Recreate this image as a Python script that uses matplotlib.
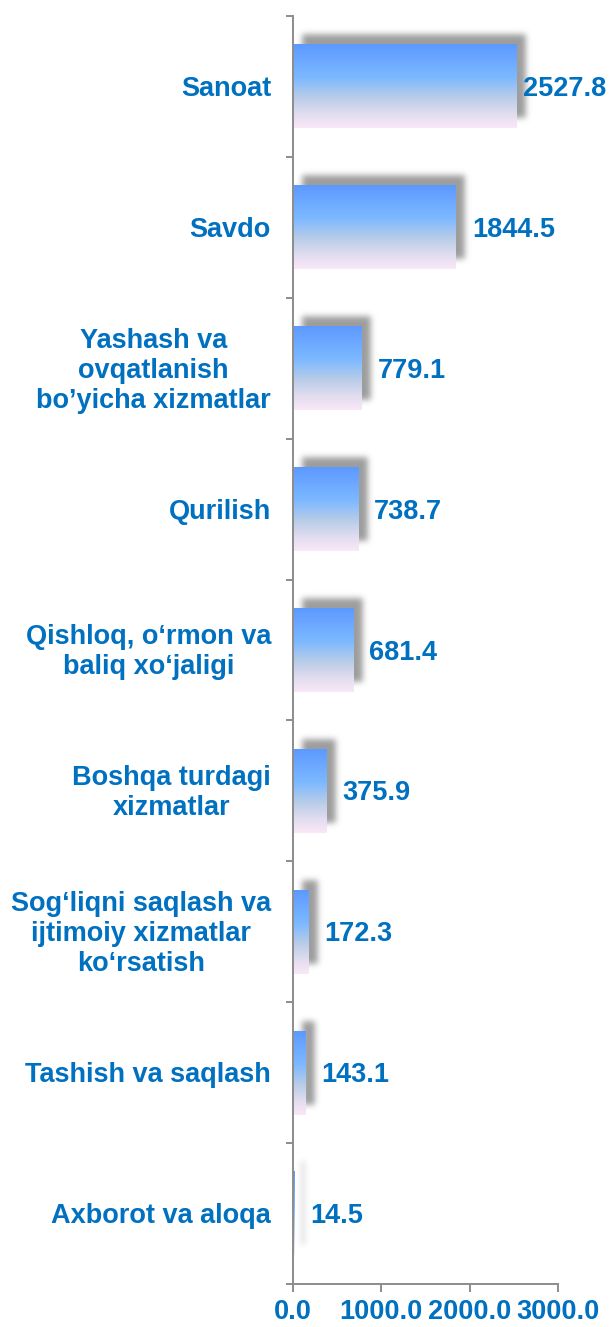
import math
import numpy as np
import matplotlib
matplotlib.use("Agg")
import matplotlib.pyplot as plt
from matplotlib.colors import LinearSegmentedColormap

categories = [
    "Sanoat",
    "Savdo",
    "Yashash va\novqatlanish\nbo\u2019yicha xizmatlar",
    "Qurilish",
    "Qishloq, o\u2018rmon va\nbaliq xo\u2018jaligi",
    "Boshqa turdagi\nxizmatlar",
    "Sog\u2018liqni saqlash va\nijtimoiy xizmatlar\nko\u2018rsatish",
    "Tashish va saqlash",
    "Axborot va aloqa",
]
values = [2527.8, 1844.5, 779.1, 738.7, 681.4, 375.9, 172.3, 143.1, 14.5]
xticks = [0, 1000, 2000, 3000]
xtick_labels = ["0.0", "1000.0", "2000.0", "3000.0"]

W, H, DPI = 609, 1327, 100
BLUE = "#0070C0"
FONT = "Liberation Sans"
FS = 19.5
PT = 72 / DPI  # points per pixel

fig = plt.figure(figsize=(W / DPI, H / DPI), dpi=DPI)
ax_l, ax_r, ax_t, ax_b = 293, 558, 16, 1284
ax = fig.add_axes([ax_l / W, (H - ax_b) / H, (ax_r - ax_l) / W, (ax_b - ax_t) / H])

n = len(categories)
xmax = 3000
ax.set_xlim(0, xmax)
ax.set_ylim(-0.5, n - 0.5)
ypos = np.arange(n)[::-1]  # first category at top

px_per_x = (ax_r - ax_l) / xmax
px_per_y = (ax_b - ax_t) / n

bar_h = 0.595
grad_cmap = LinearSegmentedColormap.from_list(
    "g",
    [(0.0, (250/255, 232/255, 248/255)),
     (0.15, (228/255, 222/255, 240/255)),
     (0.36, (185/255, 205/255, 232/255)),
     (0.6, (125/255, 185/255, 255/255)),
     (1.0, (92/255, 153/255, 255/255))],
)
grad = np.linspace(0, 1, 256).reshape(-1, 1)

erf = np.vectorize(math.erf)


def smooth_box(t, a, b, s):
    return 0.5 * (erf((t - a) / (s * math.sqrt(2))) - erf((t - b) / (s * math.sqrt(2))))


# shadows
sh_dx, sh_dy, sig = 9.0, 10.0, 3.0  # pixels
for y, v in zip(ypos, values):
    x0 = 0 + sh_dx / px_per_x
    x1 = v + sh_dx / px_per_x
    y0 = y - bar_h / 2 + sh_dy / px_per_y
    y1 = y + bar_h / 2 + sh_dy / px_per_y
    padx = 3 * sig / px_per_x
    pady = 3 * sig / px_per_y
    ex0, ex1 = x0 - padx, x1 + padx
    ey0, ey1 = y0 - pady, y1 + pady
    nx = max(int((ex1 - ex0) * px_per_x * 2), 8)
    ny = max(int((ey1 - ey0) * px_per_y * 2), 8)
    xs = np.linspace(ex0, ex1, nx)
    ys = np.linspace(ey0, ey1, ny)
    fx = smooth_box(xs * px_per_x, x0 * px_per_x, x1 * px_per_x, sig)
    fy = smooth_box(ys * px_per_y, y0 * px_per_y, y1 * px_per_y, sig)
    alpha = np.outer(fy, fx) * 0.62
    img = np.zeros((ny, nx, 4))
    img[..., :3] = 0.38
    img[..., 3] = alpha
    ax.imshow(img, extent=(ex0, ex1, ey0, ey1), origin="lower",
              aspect="auto", interpolation="bilinear", zorder=1)

# gradient bars
for y, v in zip(ypos, values):
    ax.imshow(grad, extent=(0, v, y - bar_h / 2, y + bar_h / 2), origin="lower",
              cmap=grad_cmap, aspect="auto", interpolation="bilinear", zorder=2)

ax.set_xlim(0, xmax)
ax.set_ylim(-0.5, n - 0.5)

dy_txt = -2.5 * PT

# value labels
fig.canvas.draw()
renderer = fig.canvas.get_renderer()
for y, v in zip(ypos, values):
    t = ax.annotate(f"{v:.1f}", xy=(v, y), xytext=(16 * PT, dy_txt),
                    textcoords="offset points", ha="left", va="center",
                    color=BLUE, fontsize=FS, fontweight="bold", family=FONT,
                    zorder=3, annotation_clip=False)
    bb = t.get_window_extent(renderer)
    if bb.x1 > W - 3:
        shift = bb.x1 - (W - 3)
        t.set_position((16 * PT - shift * PT, dy_txt))

# category labels
for y, c in zip(ypos, categories):
    ax.annotate(c, xy=(0, y), xytext=(-22 * PT, dy_txt), textcoords="offset points",
                ha="right", va="center", multialignment="center",
                color=BLUE, fontsize=FS, fontweight="bold", family=FONT,
                annotation_clip=False)

# axes styling
for s in ["top", "right"]:
    ax.spines[s].set_visible(False)
for s in ["left", "bottom"]:
    ax.spines[s].set_color("#8C8C8C")
    ax.spines[s].set_linewidth(1.4)

ax.set_yticks(np.arange(n + 1) - 0.5)
ax.set_yticklabels([])
ax.tick_params(axis="y", length=5, width=1.4, color="#8C8C8C", direction="out")
ax.set_xticks(xticks)
ax.set_xticklabels(xtick_labels)
ax.tick_params(axis="x", length=6, width=1.4, color="#8C8C8C", direction="out", pad=5)
for lab in ax.get_xticklabels():
    lab.set_color(BLUE)
    lab.set_fontsize(FS)
    lab.set_fontweight("bold")
    lab.set_family(FONT)

fig.savefig("out.png", dpi=DPI)
